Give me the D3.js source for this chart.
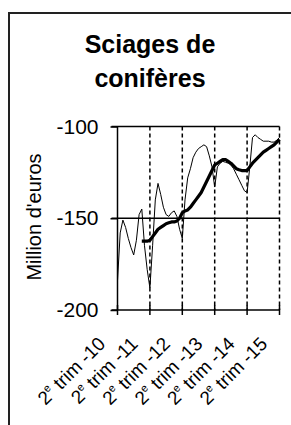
<!DOCTYPE html>
<html>
    <head>
        <script type="text/javascript" src="https://d3js.org/d3.v7.min.js"></script>
        <style>
            body { margin: 0; background: #fff; }
            text { font-family: "Liberation Sans", Arial, sans-serif; fill: #000; }
        </style>
    </head>
    <body>
        <svg width="291" height="425"></svg>
        <script type="text/javascript">
            // monthly values, month 0 = 2e trim -10, month 60 = 2e trim -15
            var monthly = [-184, -158, -151, -155, -161, -166, -170, -162, -148, -145,
                           -165, -178, -188, -165, -140, -131, -137, -144, -148, -149,
                           -147, -146, -149, -156, -161, -140, -128, -123, -117, -114,
                           -112, -111, -110, -111, -116, -122, -133, -122, -120, -119,
                           -119.5, -120, -121, -123, -126, -129, -132, -135, -136, -122,
                           -106, -104.5, -106, -107, -108, -108, -108, -108.5, -108.5, -107.5,
                           -106];
            // smoothed trend (starts later)
            var trend = [null, null, null, null, null, null, null, null, null, -162.5,
                         -162.5, -162.5, -162, -160, -158, -156, -155, -154, -153, -152.5,
                         -152, -152, -151.5, -150, -147, -146, -145.5, -144, -142, -140,
                         -138, -136, -133, -130, -127, -124, -121, -120, -119, -118,
                         -118, -119, -120, -121.5, -123, -123.6, -124, -124, -124, -122,
                         -120, -118.5, -117, -115.5, -114, -113, -112, -111, -110, -108.5,
                         -107];
            var tickMonths = [0, 12, 24, 36, 48, 60];
            var tickYears = ["10", "11", "12", "13", "14", "15"];
            var yTicks = [-200, -150, -100];

            var svg = d3.select("svg");

            // outer frame (runs off the picture on right and bottom)
            svg.append("rect")
                .attr("x", 9).attr("y", 13)
                .attr("width", 320).attr("height", 440)
                .style("fill", "none").style("stroke", "#222").style("stroke-width", 2);

            // title
            var title = svg.append("text")
                .attr("text-anchor", "middle")
                .style("font-weight", "bold").style("font-size", "25px");
            title.append("tspan").attr("x", 150).attr("y", 53).text("Sciages de");
            title.append("tspan").attr("x", 150).attr("y", 87).text("conifères");

            var x = d3.scaleLinear().domain([0, 60]).range([117.5, 279.5]);
            var y = d3.scaleLinear().domain([-200, -100]).range([310, 126.5]);

            // y axis
            var yAxis = svg.append("g").attr("transform", "translate(117.5,0)")
                .call(d3.axisLeft(y).tickValues(yTicks).tickSize(7).tickPadding(12)
                    .tickFormat(function(d) { return String(d); }));
            yAxis.select(".domain").remove();
            yAxis.selectAll("line").style("stroke", "#000").style("stroke-width", 1.5);
            yAxis.selectAll("text").style("font-size", "21px").attr("font-family", null);
            svg.append("line")
                .attr("x1", x(0)).attr("x2", x(0))
                .attr("y1", y(-100)).attr("y2", y(-200))
                .style("stroke", "#000").style("stroke-width", 1.5);

            // horizontal grid lines
            svg.selectAll(".hgrid")
                .data([-150, -100])
                .enter()
                .append("line")
                .attr("class", "hgrid")
                .attr("x1", x(0) - 6).attr("x2", x(60))
                .attr("y1", function(d) { return y(d); })
                .attr("y2", function(d) { return y(d); })
                .style("stroke", "#000").style("stroke-width", 1.5);

            // vertical dashed grid lines
            svg.selectAll(".vgrid")
                .data(tickMonths.slice(1))
                .enter()
                .append("line")
                .attr("class", "vgrid")
                .attr("x1", function(d) { return x(d); })
                .attr("x2", function(d) { return x(d); })
                .attr("y1", y(-100)).attr("y2", y(-200))
                .style("stroke", "#000").style("stroke-width", 1.5)
                .style("stroke-dasharray", "4,3");

            // x axis with crossing ticks
            svg.append("line")
                .attr("x1", x(0) - 6).attr("x2", x(60))
                .attr("y1", y(-200)).attr("y2", y(-200))
                .style("stroke", "#000").style("stroke-width", 1.5);
            svg.selectAll(".xtick")
                .data(tickMonths)
                .enter()
                .append("line")
                .attr("class", "xtick")
                .attr("x1", function(d) { return x(d); })
                .attr("x2", function(d) { return x(d); })
                .attr("y1", y(-200) - 5).attr("y2", y(-200) + 5)
                .style("stroke", "#000").style("stroke-width", 1.5);

            var labels = svg.selectAll(".xlab")
                .data(tickMonths)
                .enter()
                .append("text")
                .attr("class", "xlab")
                .attr("text-anchor", "end")
                .style("font-size", "19px")
                .attr("transform", function(d) {
                    return "translate(" + (x(d) - 11) + "," + (y(-200) + 35) + ") rotate(-45)";
                });
            labels.append("tspan").text("2");
            labels.append("tspan").text("e").style("font-size", "11px").attr("dy", -8);
            labels.append("tspan").attr("dy", 8).text(function(d, i) { return " trim -" + tickYears[i]; });

            // y axis title
            svg.append("text")
                .attr("text-anchor", "middle")
                .style("font-size", "20px")
                .attr("transform", "translate(41,217) rotate(-90)")
                .text("Million d'euros");

            var line = d3.line()
                .defined(function(d) { return d != null; })
                .x(function(d, i) { return x(i); })
                .y(function(d) { return y(d); });

            svg.append("path")
                .datum(monthly)
                .attr("d", line)
                .style("fill", "none").style("stroke", "#000").style("stroke-width", 1);

            svg.append("path")
                .datum(trend)
                .attr("d", line)
                .style("fill", "none").style("stroke", "#000").style("stroke-width", 3.2)
                .style("stroke-linejoin", "round");
        </script>
    </body>
</html>
